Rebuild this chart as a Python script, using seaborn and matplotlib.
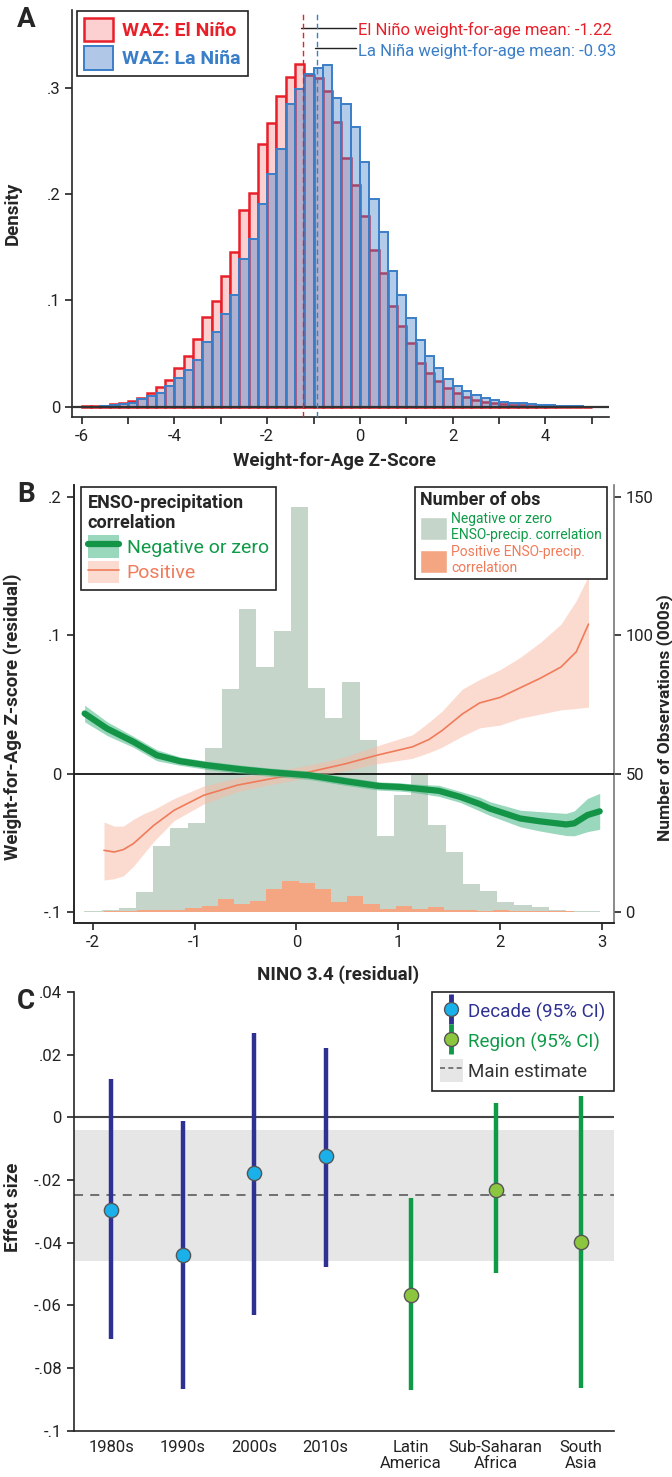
import numpy as np
import pandas as pd
import matplotlib
matplotlib.use('Agg')
import matplotlib.pyplot as plt
import seaborn as sns
from matplotlib import font_manager
from matplotlib.patches import Patch
from matplotlib.lines import Line2D
from matplotlib.ticker import FuncFormatter

# --- Painel A: densidade do WAZ (bins de 0.2 entre -6 e 5) ---
waz_start = -6.0
waz_bin = 0.2
waz_el_nino = [0.0005, 0.0005, 0.001, 0.003, 0.004, 0.0055, 0.0085, 0.013, 0.0185, 0.0257,
               0.037, 0.048, 0.0636, 0.0846, 0.0997, 0.123, 0.146, 0.185, 0.201, 0.247,
               0.267, 0.292, 0.310, 0.322, 0.312, 0.309, 0.297, 0.268, 0.2335, 0.2085,
               0.179, 0.147, 0.126, 0.095, 0.076, 0.060, 0.041, 0.032, 0.0245, 0.018,
               0.0133, 0.0094, 0.0068, 0.005, 0.0035, 0.0027, 0.002, 0.0015, 0.001, 0.0007,
               0.0005, 0.0004, 0.0003, 0.0003, 0.0003]
waz_la_nina = [0.0, 0.0003, 0.001, 0.0015, 0.003, 0.004, 0.007, 0.010, 0.0135, 0.0197,
               0.0276, 0.0345, 0.044, 0.061, 0.070, 0.0875, 0.105, 0.139, 0.158, 0.191,
               0.219, 0.242, 0.285, 0.299, 0.313, 0.3186, 0.321, 0.290, 0.2846, 0.263,
               0.230, 0.195, 0.164, 0.128, 0.105, 0.0834, 0.0627, 0.0476, 0.037, 0.0263,
               0.0194, 0.0147, 0.011, 0.0082, 0.0066, 0.005, 0.0041, 0.0034, 0.0028, 0.002,
               0.0015, 0.001, 0.0007, 0.0005, 0.0003]
mean_el_nino = -1.22
mean_la_nina = -0.93

# --- Painel B: número de observações (milhares) por NINO 3.4 ---
obs_neg_start, obs_neg_bin = -2.083, 0.169
obs_neg = [0.5, 0.85, 1.45, 7.2, 23.9, 30.4, 32.3, 59.3, 80.5, 109.4,
           88.6, 101.5, 146.4, 80.8, 70.0, 83.0, 62.2, 27.3, 42.4, 50.0,
           31.4, 21.7, 10.1, 7.6, 3.4, 2.4, 1.8, 0.8, 0.5, 0.3]
obs_pos_start, obs_pos_bin = -1.885, 0.159
obs_pos = [0.3, 0.4, 0.6, 0.85, 0.6, 1.45, 2.2, 4.8, 3.0, 3.9,
           8.1, 11.1, 10.5, 8.1, 3.6, 5.8, 3.0, 1.0, 2.1, 1.0,
           1.9, 0.7, 0.8, 0.4, 0.6, 0.3, 0.3, 0.2, 0.2, 0.1]

# curvas (resíduo do WAZ)
neg_x = [-2.08, -1.86, -1.60, -1.37, -1.14, -0.88, -0.55, -0.26, 0.12, 0.48, 0.81,
         1.02, 1.14, 1.40, 1.61, 1.80, 1.90, 2.20, 2.39, 2.65, 2.73, 2.86, 2.98]
neg_y = [0.0434, 0.0325, 0.0229, 0.0132, 0.0089, 0.006, 0.0031, 0.0010, -0.0012, -0.0055, -0.009,
         -0.0097, -0.0105, -0.0125, -0.0169, -0.022, -0.0253, -0.0325, -0.0345, -0.0368, -0.036,
         -0.030, -0.0273]
neg_ci = [0.006, 0.005, 0.004, 0.004, 0.003, 0.003, 0.003, 0.003, 0.003, 0.003, 0.003,
          0.003, 0.003, 0.004, 0.004, 0.005, 0.005, 0.006, 0.007, 0.008, 0.009, 0.012, 0.013]

pos_x = [-1.89, -1.79, -1.70, -1.60, -1.50, -1.40, -1.20, -0.91, -0.58, -0.26, 0.12, 0.48,
         0.79, 1.14, 1.30, 1.43, 1.63, 1.80, 2.00, 2.20, 2.40, 2.60, 2.75, 2.87]
pos_y = [-0.0555, -0.0567, -0.055, -0.0506, -0.044, -0.0374, -0.0265, -0.0157, -0.0084, -0.0039, 0.001, 0.007,
         0.0132, 0.0193, 0.0245, 0.031, 0.043, 0.051, 0.055, 0.062, 0.069, 0.077, 0.088, 0.108]
pos_lo = [-0.077, -0.076, -0.074, -0.067, -0.058, -0.049, -0.034, -0.022, -0.013, -0.008, -0.003, 0.002,
          0.007, 0.011, 0.015, 0.019, 0.027, 0.033, 0.035, 0.040, 0.043, 0.046, 0.047, 0.048]
pos_hi = [-0.035, -0.038, -0.038, -0.033, -0.029, -0.026, -0.018, -0.009, -0.003, 0.001, 0.006, 0.012,
          0.020, 0.028, 0.037, 0.045, 0.061, 0.068, 0.075, 0.084, 0.095, 0.108, 0.125, 0.143]

# --- Painel C: tamanho do efeito ---
decadas = ['1980s', '1990s', '2000s', '2010s']
dec_est = [-0.0296, -0.044, -0.0178, -0.0124]
dec_lo = [-0.0708, -0.0866, -0.063, -0.0477]
dec_hi = [0.0122, -0.0012, 0.0268, 0.0222]
regioes = ['Latin\nAmerica', 'Sub-Saharan\nAfrica', 'South\nAsia']
reg_est = [-0.0568, -0.0230, -0.0396]
reg_lo = [-0.0871, -0.0498, -0.0863]
reg_hi = [-0.0258, 0.0045, 0.0067]
main_est = -0.0248
main_lo = -0.0457
main_hi = -0.0041

# cores
RED, PINK = '#e8202a', '#fcd0d0'
BLUE, BLUE_FACE = '#3a7ec8', (0.25, 0.5, 0.8, 0.4)
GREEN_LINE, GREEN_BAND = '#149447', '#48b887'
ORANGE_LINE, ORANGE_BAND = '#f07b5a', '#f9b9a3'
HIST_GREEN, HIST_ORANGE = '#c5d5c9', '#f4a582'
NAVY, CYAN, LIME, DGREEN = '#2e3192', '#1ab0ea', '#8cc63f', '#0f9a48'

sns.set_style('ticks')
disponiveis = {f.name for f in font_manager.fontManager.ttflist}
fonte = 'Liberation Sans Narrow' if 'Liberation Sans Narrow' in disponiveis else 'Roboto'
plt.rcParams['font.family'] = [fonte, 'DejaVu Sans']
plt.rcParams['axes.linewidth'] = 1.2
plt.rcParams['xtick.major.width'] = 1.2
plt.rcParams['ytick.major.width'] = 1.2
plt.rcParams['xtick.major.size'] = 5
plt.rcParams['ytick.major.size'] = 5
plt.rcParams['xtick.color'] = '#222222'
plt.rcParams['ytick.color'] = '#222222'


def curto(v, pos):
    if abs(v) < 1e-9:
        return '0'
    return ('%g' % round(v, 6)).replace('0.', '.')


def centros(start, width, n):
    return start + width * (np.arange(n) + 0.5)


fig = plt.figure(figsize=(6.72, 14.77), dpi=100)
axA = fig.add_axes([0.1071, 0.7175, 0.7985, 0.2758])
axB = fig.add_axes([0.1097, 0.3751, 0.8033, 0.2965])
axC = fig.add_axes([0.1097, 0.0313, 0.8040, 0.2970])

# --- 1. Painel A ---
n = len(waz_el_nino)
df_a = pd.DataFrame({'waz': centros(waz_start, waz_bin, n),
                     'el': waz_el_nino, 'la': waz_la_nina})
rng_a = (waz_start, waz_start + waz_bin * n)
sns.histplot(data=df_a, x='waz', weights='el', binwidth=waz_bin, binrange=rng_a, stat='count',
             ax=axA, element='bars', fill=True, facecolor=PINK, edgecolor=RED, linewidth=1.8)
sns.histplot(data=df_a, x='waz', weights='la', binwidth=waz_bin, binrange=rng_a, stat='count',
             ax=axA, element='bars', fill=True, facecolor=BLUE_FACE, edgecolor=BLUE, linewidth=1.4)
axA.axhline(0, color='#333333', lw=1.6, zorder=5)
axA.axvline(mean_el_nino, color=RED, ls=(0, (4, 2.5)), lw=1.0, ymax=0.995, zorder=6)
axA.axvline(mean_la_nina, color=BLUE, ls=(0, (4, 2.5)), lw=1.0, ymax=0.995, zorder=6)
axA.plot([mean_el_nino - 0.05, -0.08], [0.356, 0.356], color='#222222', lw=1.0)
axA.plot([mean_la_nina - 0.05, -0.08], [0.3375, 0.3375], color='#222222', lw=1.0)
axA.text(-0.04, 0.354, 'El Niño weight-for-age mean: %.2f' % mean_el_nino, color=RED,
         fontsize=12, va='center', ha='left')
axA.text(-0.04, 0.334, 'La Niña weight-for-age mean: %.2f' % mean_la_nina, color=BLUE,
         fontsize=12, va='center', ha='left')
axA.set_xlim(-6.21, 5.36)
axA.set_ylim(-0.0097, 0.373)
axA.set_xticks(range(-6, 6))
axA.set_xticklabels([str(i) if i % 2 == 0 else '' for i in range(-6, 6)])
axA.set_yticks([0, 0.1, 0.2, 0.3])
axA.yaxis.set_major_formatter(FuncFormatter(curto))
axA.tick_params(labelsize=12)
axA.set_xlabel('Weight-for-Age Z-Score', fontsize=13.5, fontweight='bold')
axA.set_ylabel('Density', fontsize=13.5, fontweight='bold')
axA.xaxis.set_label_coords(0.49, -0.085)
axA.yaxis.set_label_coords(-0.093, 0.5)
sns.despine(ax=axA)
legA = axA.legend(handles=[Patch(facecolor=PINK, edgecolor=RED, lw=1.8),
                           Patch(facecolor=(0.69, 0.78, 0.91), edgecolor=BLUE, lw=1.4)],
                  labels=['WAZ: El Niño', 'WAZ: La Niña'], loc='upper left',
                  bbox_to_anchor=(0.009, 0.998), borderaxespad=0, fancybox=False,
                  framealpha=1, edgecolor='#222222', handlelength=1.5, handleheight=1.45,
                  handletextpad=0.5, labelspacing=0.3, borderpad=0.35,
                  prop={'size': 14, 'weight': 'bold'})
legA.get_frame().set_linewidth(1.2)
for t, c in zip(legA.get_texts(), [RED, BLUE]):
    t.set_color(c)

# --- 2. Painel B ---
axB2 = axB.twinx()
df_neg = pd.DataFrame({'nino': centros(obs_neg_start, obs_neg_bin, len(obs_neg)), 'obs': obs_neg})
df_pos = pd.DataFrame({'nino': centros(obs_pos_start, obs_pos_bin, len(obs_pos)), 'obs': obs_pos})
sns.histplot(data=df_neg, x='nino', weights='obs', binwidth=obs_neg_bin,
             binrange=(obs_neg_start, obs_neg_start + obs_neg_bin * len(obs_neg)), stat='count',
             ax=axB2, element='step', fill=True, facecolor=HIST_GREEN, edgecolor='none',
             linewidth=0, alpha=1)
sns.histplot(data=df_pos, x='nino', weights='obs', binwidth=obs_pos_bin,
             binrange=(obs_pos_start, obs_pos_start + obs_pos_bin * len(obs_pos)), stat='count',
             ax=axB2, element='step', fill=True, facecolor=HIST_ORANGE, edgecolor='none',
             linewidth=0, alpha=1)
axB2.set_ylim(-4, 154.25)
axB2.set_yticks([0, 50, 100, 150])
axB2.set_ylabel('Number of Observations (000s)', fontsize=12.5, fontweight='bold', rotation=90)
axB2.yaxis.set_label_coords(1.078, 0.47)
axB2.tick_params(labelsize=12)
axB2.spines['top'].set_visible(False)
axB2.spines['right'].set_color('#777777')

axB.set_zorder(axB2.get_zorder() + 1)
axB.patch.set_visible(False)
axB.axhline(0, color='black', lw=1.2, zorder=1)
axB.fill_between(pos_x, pos_lo, pos_hi, color=ORANGE_BAND, alpha=0.5, lw=0, zorder=2)
sns.lineplot(x=pos_x, y=pos_y, ax=axB, color=ORANGE_LINE, lw=1.2, zorder=3)
neg_lo = np.array(neg_y) - np.array(neg_ci)
neg_hi = np.array(neg_y) + np.array(neg_ci)
axB.fill_between(neg_x, neg_lo, neg_hi, color=GREEN_BAND, alpha=0.55, lw=0, zorder=4)
sns.lineplot(x=neg_x, y=neg_y, ax=axB, color=GREEN_LINE, lw=4.5, zorder=5)
axB.set_xlim(-2.187, 3.116)
axB.set_ylim(-0.108, 0.2085)
axB.set_xticks(range(-2, 4))
axB.set_xticklabels([str(i) for i in range(-2, 4)])
axB.set_yticks([-0.1, 0, 0.1, 0.2])
axB.yaxis.set_major_formatter(FuncFormatter(curto))
axB.tick_params(labelsize=12)
axB.set_xlabel('NINO 3.4 (residual)', fontsize=13.5, fontweight='bold')
axB.set_ylabel('Weight-for-Age Z-score (residual)', fontsize=13.5, fontweight='bold')
axB.xaxis.set_label_coords(0.49, -0.096)
axB.yaxis.set_label_coords(-0.096, 0.47)
axB.spines['top'].set_visible(False)
axB.spines['right'].set_visible(False)

legB1 = axB.legend(handles=[(Patch(facecolor=GREEN_BAND, alpha=0.55, lw=0),
                             Line2D([], [], color=GREEN_LINE, lw=4.5)),
                            (Patch(facecolor=ORANGE_BAND, alpha=0.5, lw=0),
                             Line2D([], [], color=ORANGE_LINE, lw=1.2))],
                   labels=['Negative or zero', 'Positive'],
                   title='ENSO-precipitation\ncorrelation', alignment='left',
                   title_fontproperties={'size': 13, 'weight': 'bold'},
                   loc='upper left', bbox_to_anchor=(0.0135, 0.996), borderaxespad=0,
                   fancybox=False, framealpha=1, edgecolor='#222222', handlelength=1.6,
                   handleheight=1.4, handletextpad=0.4, labelspacing=0.15, borderpad=0.35,
                   prop={'size': 14})
legB1.get_frame().set_linewidth(1.2)
for t, c in zip(legB1.get_texts(), [DGREEN, ORANGE_LINE]):
    t.set_color(c)
axB.add_artist(legB1)

legB2 = axB.legend(handles=[Patch(facecolor=HIST_GREEN), Patch(facecolor=HIST_ORANGE)],
                   labels=['Negative or zero\nENSO-precip. correlation',
                           'Positive ENSO-precip.\ncorrelation'],
                   title='Number of obs', alignment='left',
                   title_fontproperties={'size': 13, 'weight': 'bold'},
                   loc='upper right', bbox_to_anchor=(0.987, 0.9954), borderaxespad=0,
                   fancybox=False, framealpha=1, edgecolor='#222222', handlelength=2.0,
                   handleheight=2.2, handletextpad=0.3, labelspacing=0.2, borderpad=0.3,
                   prop={'size': 10})
legB2.get_frame().set_linewidth(1.2)
for t, c in zip(legB2.get_texts(), [DGREEN, ORANGE_LINE]):
    t.set_color(c)

# --- 3. Painel C ---
pos_dec = np.arange(len(decadas))
pos_reg = pos_dec[-1] + 1.19 * np.arange(1, len(regioes) + 1)
axC.axhspan(main_lo, main_hi, color='#e6e6e6', lw=0, zorder=0)
axC.axhline(main_est, color='#666666', ls=(0, (5, 4)), lw=1.3, zorder=1)
axC.axhline(0, color='#444444', lw=1.5, zorder=1)
axC.vlines(pos_dec, dec_lo, dec_hi, color=NAVY, lw=3.2, zorder=2)
axC.vlines(pos_reg, reg_lo, reg_hi, color=DGREEN, lw=3.2, zorder=2)
sns.scatterplot(x=pos_dec, y=dec_est, ax=axC, color=CYAN, s=105, edgecolor='#555555',
                linewidth=1.0, zorder=3)
sns.scatterplot(x=pos_reg, y=reg_est, ax=axC, color=LIME, s=105, edgecolor='#555555',
                linewidth=1.0, zorder=3)
axC.set_xlim(-0.528, 7.038)
axC.set_ylim(-0.1, 0.04)
axC.set_yticks([-0.1, -0.08, -0.06, -0.04, -0.02, 0, 0.02, 0.04])
axC.yaxis.set_major_formatter(FuncFormatter(curto))
axC.set_xticks(np.concatenate([pos_dec, pos_reg]))
axC.set_xticklabels(decadas + regioes, fontsize=12, linespacing=1.05)
axC.tick_params(axis='x', length=0, pad=7)
axC.tick_params(axis='y', labelsize=12)
axC.set_ylabel('Effect size', fontsize=13.5, fontweight='bold')
axC.yaxis.set_label_coords(-0.096, 0.51)
sns.despine(ax=axC)

legC = axC.legend(handles=[(Line2D([], [], color=NAVY, marker='|', ms=22, mew=3.5, ls='none'),
                            Line2D([], [], marker='o', ms=10, mfc=CYAN, mec='#555555', ls='none')),
                           (Line2D([], [], color=DGREEN, marker='|', ms=22, mew=3.5, ls='none'),
                            Line2D([], [], marker='o', ms=10, mfc=LIME, mec='#555555', ls='none')),
                           (Patch(facecolor='#e6e6e6', lw=0),
                            Line2D([], [], color='#666666', ls=(0, (3, 2)), lw=1.2))],
                  labels=['Decade (95% CI)', 'Region (95% CI)', 'Main estimate'],
                  loc='upper right', bbox_to_anchor=(1.0, 1.0), borderaxespad=0,
                  fancybox=False, framealpha=1, edgecolor='#222222', handlelength=1.2,
                  handleheight=1.5, handletextpad=0.3, labelspacing=0.35, borderpad=0.45,
                  prop={'size': 13.5})
legC.get_frame().set_linewidth(1.2)
for t, c in zip(legC.get_texts(), [NAVY, DGREEN, '#333333']):
    t.set_color(c)

# letras dos painéis
for letra, y in [('A', 0.987), ('B', 0.665), ('C', 0.322)]:
    fig.text(0.025, y, letra, fontsize=20, fontweight='bold', va='center', ha='left')

fig.savefig('out.png', dpi=100)
